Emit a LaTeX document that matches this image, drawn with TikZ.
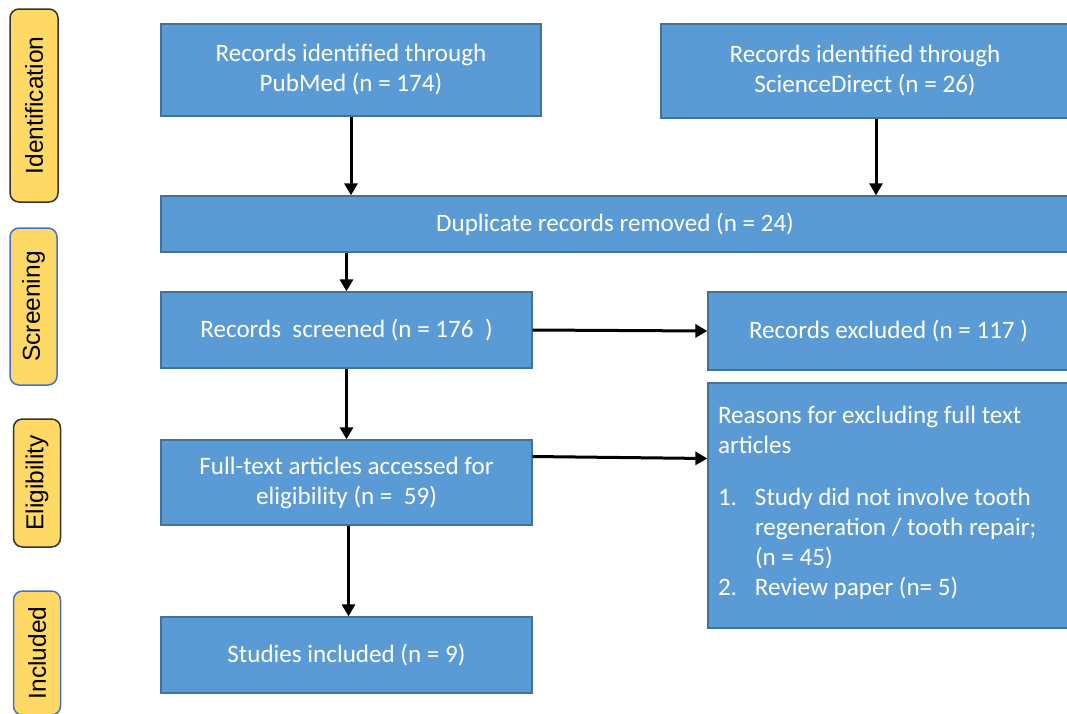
\documentclass[tikz,border=0pt]{standalone}
\usepackage{fontspec}
\setmainfont{Carlito}
\newfontfamily\stagefont{Liberation Sans}
\usepackage{tikz}
\usetikzlibrary{arrows.meta}
\definecolor{boxblue}{HTML}{5B9BD5}
\definecolor{boxline}{HTML}{41719C}
\definecolor{stageyellow}{HTML}{FFD966}
\definecolor{stageblue}{HTML}{4472C4}

\begin{document}
\begin{tikzpicture}[x=1pt,y=1pt,
                    flowbox/.style={draw=boxline,line width=1.3pt,fill=boxblue,text=white,
                                    font=\fontsize{25.1}{30}\selectfont,align=center,inner sep=0pt},
                    stage/.style={draw=black!80,line width=1.5pt,fill=stageyellow,rounded corners=9pt,
                                  rotate=90,font=\stagefont\fontsize{24.5}{29}\selectfont,inner sep=0pt},
                    arr/.style={line width=3pt,-{Triangle[length=12pt,width=13pt]}}]
    \useasboundingbox (0,0) rectangle (1067,-713);
    \clip (0,0) rectangle (1067,-713);
    \node[stage,minimum width=193pt,minimum height=48pt] (lident) at (34,-105.5) {Identification};
    \node[stage,draw=stageblue,minimum width=157pt,minimum height=47pt] (lscreen) at (33.5,-306.5) {Screening};
    \node[stage,minimum width=128pt,minimum height=47pt] (lelig) at (37,-483) {Eligibility};
    \node[stage,draw=stageblue,minimum width=124pt,minimum height=47pt] (lincl) at (37,-653) {Included};
    \node[flowbox,minimum width=380pt,minimum height=92pt] (pubmed) at (351,-70)
        {Records identified through\\PubMed (n = 174)};
    \node[flowbox,minimum width=408pt,minimum height=94pt] (scidir) at (865,-71)
        {Records identified through\\ScienceDirect (n = 26)};
    \node[flowbox,minimum width=908pt,minimum height=56pt] (dupl) at (615,-224)
        {Duplicate records removed (n = 24)};
    \node[flowbox,minimum width=371pt,minimum height=76pt] (screened) at (346.5,-330)
        {Records~ screened (n = 176~ )};
    \node[flowbox,minimum width=361pt,minimum height=78pt] (excluded) at (888.5,-331)
        {Records excluded (n = 117 )};
    \node[flowbox,minimum width=371pt,minimum height=85pt] (fulltext) at (346.5,-482.5)
        {Full-text articles accessed for\\eligibility (n =~ 59)};
    \node[flowbox,minimum width=361pt,minimum height=245pt,text width=341pt,align=left,inner xsep=10pt] (reasons) at (888.5,-505.5)
        {\spaceskip=0pt\xspaceskip=0pt
         Reasons for excluding full text\\articles\\[30pt]
         \begin{tabular}{@{}p{37pt}@{}l@{}}
         1. & Study did not involve tooth\\
            & regeneration / tooth repair;\\
            & (n = 45)\\
         2. & Review paper (n= 5)
         \end{tabular}};
    \node[flowbox,minimum width=371pt,minimum height=76pt] (included) at (346.5,-655)
        {Studies included (n = 9)};
    \draw[arr] (pubmed.south) -- (pubmed.south |- dupl.north);
    \draw[arr] ([xshift=11pt]scidir.south) -- ([xshift=11pt]scidir.south |- dupl.north);
    \draw[arr] (screened.north |- dupl.south) -- (screened.north);
    \draw[arr] (screened.east) -- (excluded.west);
    \draw[arr] (screened.south) -- (fulltext.north);
    \draw[arr] ([yshift=26pt]fulltext.east) -- ([yshift=47pt]reasons.west);
    \draw[arr] ([xshift=2pt]fulltext.south) -- ([xshift=2pt]included.north);
\end{tikzpicture}
\end{document}
